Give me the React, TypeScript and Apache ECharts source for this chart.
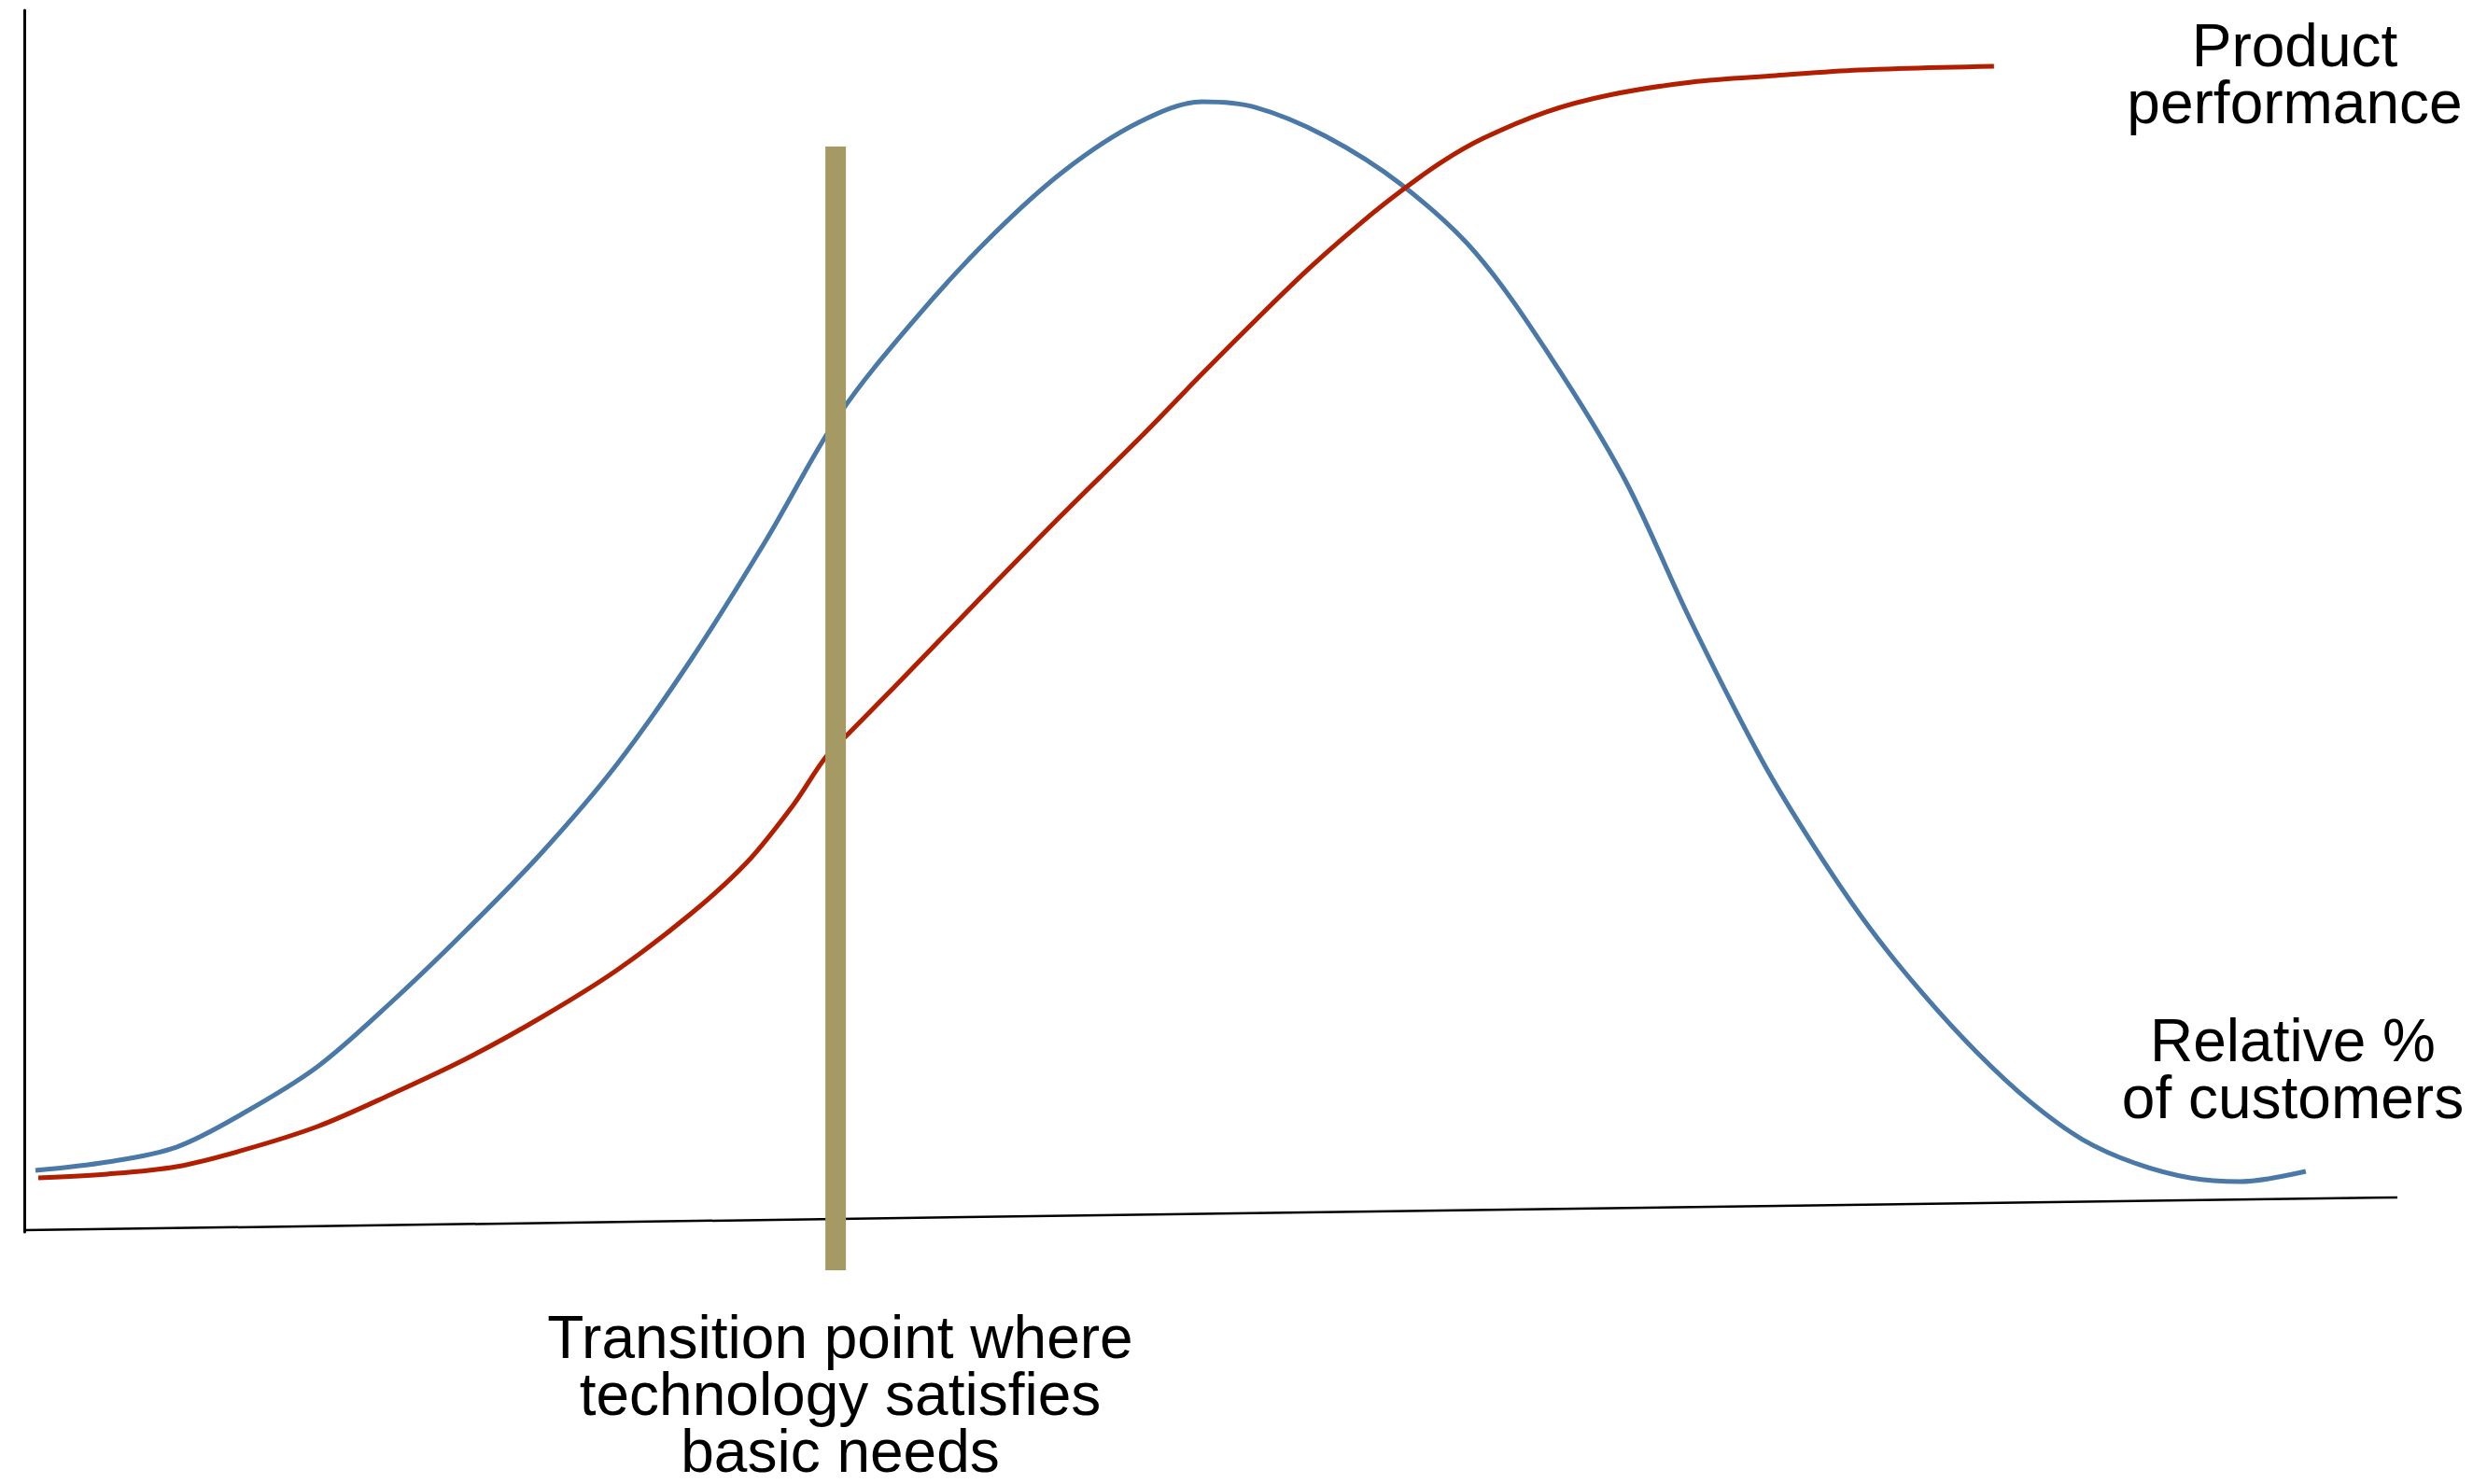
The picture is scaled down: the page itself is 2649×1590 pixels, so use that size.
import React, { useEffect, useRef } from "react";
import * as echarts from "echarts";

// Relative % of customers (blue curve): x and y in chart units (0-100)
const customersX = [0.47, 3.5, 6.41, 9.21, 12.35, 15.5, 18.65, 21.79, 24.94, 28.09, 31.23, 34.38, 37.53, 40.68, 43.82, 46.97, 49.65, 51.89, 54.84, 57.99, 61.13, 64.28, 67.43, 70.18, 73.21, 75.45, 77.73, 79.98, 82.26, 84.5, 86.74, 89.02, 91.27, 93.39, 96.14];
const customersY = [5.04, 5.73, 6.95, 9.7, 13.52, 18.87, 24.75, 31.02, 38.2, 46.83, 56.53, 67.0, 74.71, 81.36, 86.86, 90.83, 92.51, 92.05, 89.69, 85.79, 80.21, 71.73, 61.65, 50.19, 38.66, 31.47, 24.98, 19.56, 14.74, 10.7, 7.56, 5.58, 4.43, 4.13, 4.97];

// Product performance (red curve)
const performanceX = [0.59, 3.5, 6.41, 9.13, 12.35, 15.5, 18.65, 21.79, 24.94, 28.09, 30.45, 32.42, 33.75, 34.85, 36.63, 40.13, 43.67, 47.17, 49.65, 51.89, 54.17, 56.41, 58.1, 59.76, 61.49, 64.12, 66.76, 70.26, 73.8, 77.3, 83.0];
const performanceY = [4.43, 4.74, 5.35, 6.65, 8.63, 11.31, 14.21, 17.57, 21.39, 26.05, 30.25, 34.99, 38.81, 41.02, 44.54, 51.57, 58.59, 65.32, 70.28, 74.64, 78.92, 82.73, 85.33, 87.62, 89.53, 91.67, 93.05, 94.12, 94.65, 95.11, 95.42];

// Slanted baseline (x axis as drawn)
const baselineX = [0, 100];
const baselineY = [0.15, 2.83];

// Transition point marker
const transitionX = [34.19, 34.19];
const transitionY = [88.85, -3.13];

const labelProduct = "Product\nperformance";
const labelCustomers = "Relative %\nof customers";
const labelTransition = "Transition point where\ntechnology satisfies\nbasic needs";

const zip = (xs: number[], ys: number[]) => xs.map((x, i) => [x, ys[i]]);

export default function App() {
  const ref = useRef<HTMLDivElement>(null);
  useEffect(() => {
    if (!ref.current) return;
    const chart = echarts.init(ref.current, undefined, { renderer: "svg" });
    const font = "'Liberation Sans', Arial, Helvetica, sans-serif";
    chart.setOption({
      animation: false,
      backgroundColor: "#ffffff",
      grid: { left: 26, right: 81, top: 11, bottom: 270 },
      xAxis: {
        type: "value",
        min: 0,
        max: 100,
        show: false,
      },
      yAxis: {
        type: "value",
        min: 0,
        max: 100,
        axisLine: { show: true, onZero: false, lineStyle: { color: "#000000", width: 3 } },
        axisTick: { show: false },
        axisLabel: { show: false },
        splitLine: { show: false },
      },
      series: [
        {
          type: "line",
          data: zip(baselineX, baselineY),
          symbol: "none",
          lineStyle: { color: "#000000", width: 2.5 },
          clip: false,
          z: 1,
        },
        {
          type: "line",
          name: "Relative % of customers",
          data: zip(customersX, customersY),
          symbol: "none",
          smooth: 0.33,
          lineStyle: { color: "#4a78a7", width: 5, cap: "butt" },
          z: 2,
        },
        {
          type: "line",
          name: "Product performance",
          data: zip(performanceX, performanceY),
          symbol: "none",
          smooth: 0.33,
          lineStyle: { color: "#b11f00", width: 5, cap: "butt" },
          z: 3,
        },
        {
          type: "line",
          data: zip(transitionX, transitionY),
          symbol: "none",
          clip: false,
          lineStyle: { color: "#a59a64", width: 22, cap: "butt" },
          z: 4,
        },
      ],
      graphic: [
        {
          type: "text",
          x: 2458,
          y: 79,
          style: {
            text: labelProduct,
            font: `64px ${font}`,
            fill: "#000000",
            align: "center",
            verticalAlign: "middle",
            lineHeight: 61,
          },
        },
        {
          type: "text",
          x: 2456,
          y: 1145,
          style: {
            text: labelCustomers,
            font: `64px ${font}`,
            fill: "#000000",
            align: "center",
            verticalAlign: "middle",
            lineHeight: 61,
          },
        },
        {
          type: "text",
          x: 900,
          y: 1494,
          style: {
            text: labelTransition,
            font: `64px ${font}`,
            fill: "#000000",
            align: "center",
            verticalAlign: "middle",
            lineHeight: 61,
          },
        },
      ],
    });
    return () => chart.dispose();
  }, []);
  return (
    <div
      ref={ref}
      style={{ position: "absolute", left: 0, top: 0, width: 2649, height: 1590 }}
    />
  );
}
